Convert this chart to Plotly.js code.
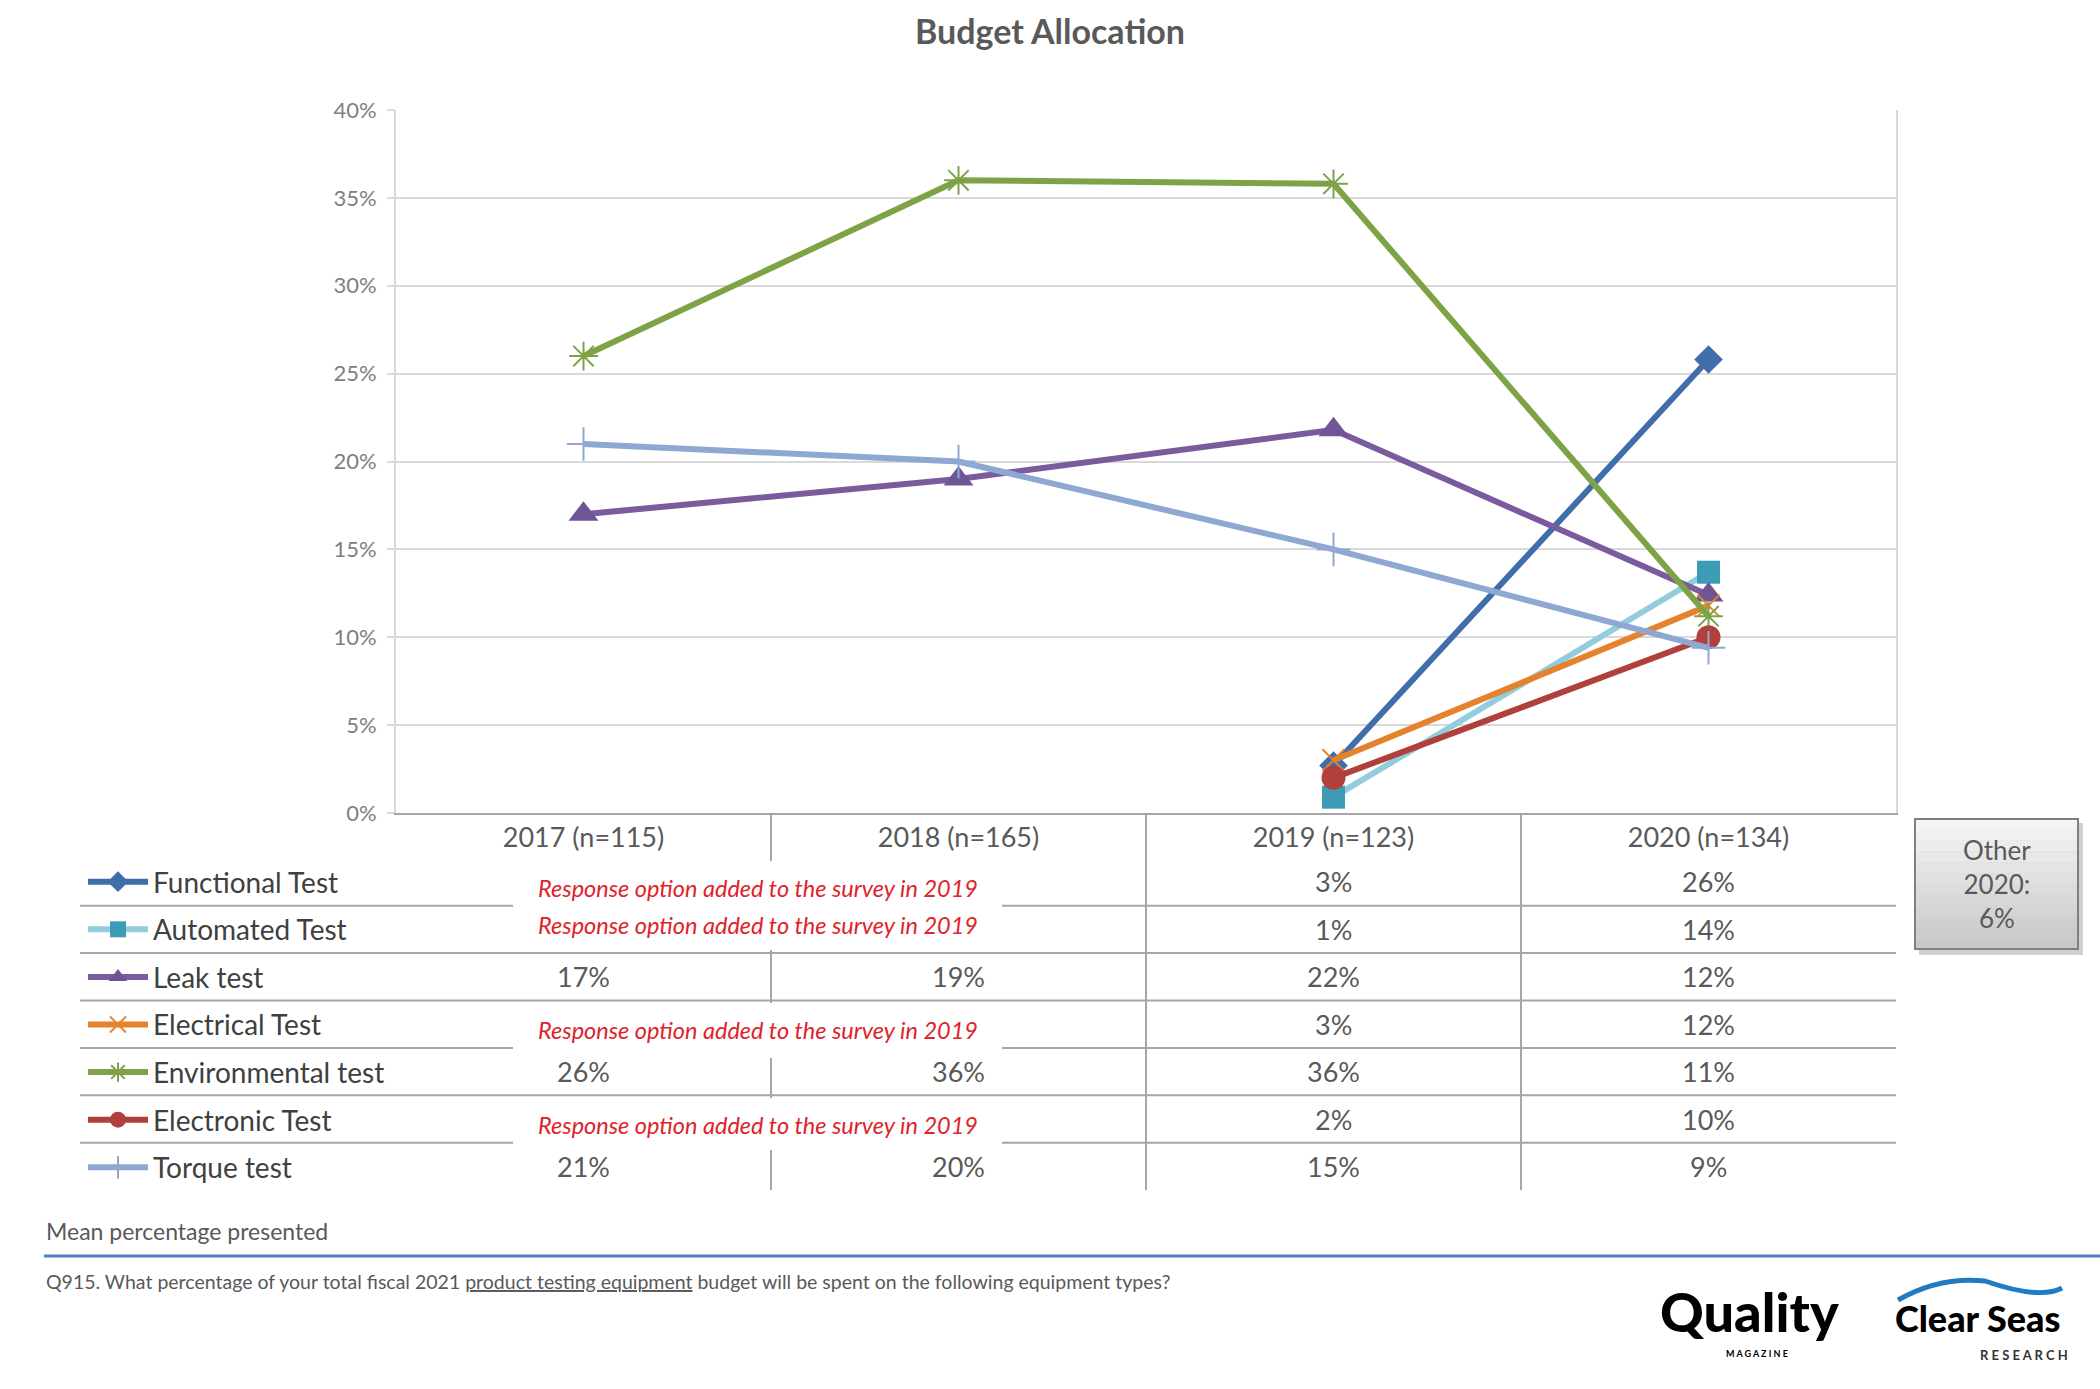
<!DOCTYPE html>
<html>
<head>
<meta charset="utf-8">
<script src="https://cdn.plot.ly/plotly-3.0.1.min.js"></script>
<style>html,body{margin:0;padding:0;background:#fff;}#chart{width:2100px;height:1389px;}</style>
</head>
<body>
<div id="chart"></div>
<script>
// ---- data ----
const categories = ['2017 (n=115)', '2018 (n=165)', '2019 (n=123)', '2020 (n=134)'];
const seriesNames = ['Functional Test', 'Automated Test', 'Leak test', 'Electrical Test', 'Environmental test', 'Electronic Test', 'Torque test'];
const functionalTest = [null, null, 2.7, 25.8];
const automatedTest = [null, null, 0.9, 13.7];
const leakTest = [17, 19, 21.8, 12.4];
const electricalTest = [null, null, 3.0, 11.8];
const environmentalTest = [26, 36, 35.8, 11.2];
const electronicTest = [null, null, 2.0, 10.0];
const torqueTest = [21, 20, 15, 9.4];
const yTickValues = [0, 5, 10, 15, 20, 25, 30, 35, 40];
const yTickLabels = ['0%', '5%', '10%', '15%', '20%', '25%', '30%', '35%', '40%'];
const missingNote = 'Response option added to the survey in 2019';
const otherNote = ['Other', '2020:', '6%'];

const seriesValues = [functionalTest, automatedTest, leakTest, electricalTest, environmentalTest, electronicTest, torqueTest];

// ---- styles ----
const lineColors = ['#3f6eaa', '#93cddd', '#7a5c9e', '#e4822e', '#7ea346', '#b13f3c', '#8ea8d2'];
const markerColors = ['#3f6eaa', '#3c9cb5', '#6f5596', '#e4822e', '#7ea346', '#b13f3c', '#8ea8d2'];
const markerSymbols = ['diamond', 'square', 'triangle-up', 'x-thin-open', 'asterisk-open', 'circle', 'cross-thin-open'];
const markerSizes = [22, 23, 26, 22, 24, 24, 24];

const FONT = 'Lato, "Open Sans", "Noto Sans", sans-serif';

// pixel -> paper helpers for layout placement
const L = 396, T = 110, W = 1500, H = 703;
const PX = x => (x - L) / W;
const PY = y => (T + H - y) / H;

const traces = seriesNames.map((name, i) => {
  const isOpen = markerSymbols[i].indexOf('open') >= 0;
  return {
    type: 'scatter',
    mode: 'lines+markers',
    name: name,
    legendgroup: 'g' + i,
    x: categories,
    y: seriesValues[i],
    cliponaxis: false,
    line: { color: lineColors[i], width: 6 },
    marker: {
      symbol: markerSymbols[i],
      size: markerSizes[i],
      color: markerColors[i],
      line: { color: markerColors[i], width: isOpen ? 2 : 0 }
    }
  };
});

// ---- table layout ----
const rowCenter0 = 882, rowPitch = 47.4;
const rowCenter = i => rowCenter0 + rowPitch * i;
const shapes = [];
const annotations = [];

// row separators
for (let i = 0; i < 6; i++) {
  const y = rowCenter(i) + rowPitch / 2;
  shapes.push({ type: 'line', xref: 'paper', yref: 'paper', x0: PX(80), x1: PX(1896), y0: PY(y), y1: PY(y),
    line: { color: '#a6a6a6', width: 2 } });
}
// column separators between categories
for (let c = 0; c < categories.length - 1; c++) {
  shapes.push({ type: 'line', xref: 'x', yref: 'paper', x0: c + 0.5, x1: c + 0.5, y0: PY(813), y1: PY(1190),
    line: { color: '#a6a6a6', width: 2 } });
}
// white masks behind "response option" notes
[[861, 950], [1003, 1058], [1098, 1150]].forEach(r => {
  shapes.push({ type: 'rect', xref: 'paper', yref: 'paper', x0: PX(513), x1: PX(1002), y0: PY(r[1]), y1: PY(r[0]),
    fillcolor: '#ffffff', line: { width: 0 } });
});

// table values
seriesValues.forEach((vals, i) => {
  vals.forEach((v, c) => {
    if (v === null) return;
    annotations.push({ xref: 'x', yref: 'paper', x: categories[c], y: PY(rowCenter(i)), text: Math.round(v) + '%',
      showarrow: false, xanchor: 'center', yanchor: 'middle', font: { family: FONT, size: 27, color: '#595959' } });
  });
});
// notes
const noteY = { 0: 888, 1: 925, 3: 1030, 5: 1125 };
Object.keys(noteY).forEach(k => {
  annotations.push({ xref: 'paper', yref: 'paper', x: PX(758), y: PY(noteY[k]), text: '<i>' + missingNote + '</i>',
    showarrow: false, xanchor: 'center', yanchor: 'middle', font: { family: FONT, size: 23.5, color: '#e0232a' } });
});

// "Other" box with shadow and gradient bands
shapes.push({ type: 'rect', xref: 'paper', yref: 'paper', x0: PX(1919), x1: PX(2083), y0: PY(955), y1: PY(823),
  fillcolor: '#cfcfcf', line: { width: 0 } });
const bx0 = 1915, bx1 = 2078, by0 = 819, by1 = 949, nb = 12;
for (let b = 0; b < nb; b++) {
  const g = Math.round(244 - (244 - 200) * b / (nb - 1));
  shapes.push({ type: 'rect', xref: 'paper', yref: 'paper', x0: PX(bx0), x1: PX(bx1),
    y0: PY(by0 + (by1 - by0) * (b + 1) / nb), y1: PY(by0 + (by1 - by0) * b / nb),
    fillcolor: 'rgb(' + g + ',' + g + ',' + g + ')', line: { width: 0 } });
}
shapes.push({ type: 'rect', xref: 'paper', yref: 'paper', x0: PX(bx0), x1: PX(bx1), y0: PY(by1), y1: PY(by0),
  fillcolor: 'rgba(0,0,0,0)', line: { color: '#7f7f7f', width: 2 } });
annotations.push({ xref: 'paper', yref: 'paper', x: PX((bx0 + bx1) / 2), y: PY((by0 + by1) / 2), text: otherNote.join('<br>'),
  showarrow: false, xanchor: 'center', yanchor: 'middle', font: { family: FONT, size: 26, color: '#595959' } });

// footer
annotations.push({ xref: 'paper', yref: 'paper', x: PX(44), y: PY(1231), text: 'Mean percentage presented',
  showarrow: false, xanchor: 'left', yanchor: 'middle', font: { family: FONT, size: 23, color: '#595959' } });
shapes.push({ type: 'line', xref: 'paper', yref: 'paper', x0: PX(44), x1: PX(2100), y0: PY(1256), y1: PY(1256),
  line: { color: '#4f81bd', width: 3 } });
annotations.push({ xref: 'paper', yref: 'paper', x: PX(44), y: PY(1281),
  text: 'Q915. What percentage of your total fiscal 2021 <span style="text-decoration:underline">product testing equipment</span> budget will be spent on the following equipment types?',
  showarrow: false, xanchor: 'left', yanchor: 'middle', font: { family: FONT, size: 19.5, color: '#595959' } });

// logos (text)
annotations.push({ xref: 'paper', yref: 'paper', x: PX(1749), y: PY(1311), text: 'Quality',
  showarrow: false, xanchor: 'center', yanchor: 'middle', font: { family: FONT, size: 54, color: '#000000', weight: 900 } });
annotations.push({ xref: 'paper', yref: 'paper', x: PX(1757), y: PY(1353), text: 'M A G A Z I N E',
  showarrow: false, xanchor: 'center', yanchor: 'middle', font: { family: FONT, size: 9, color: '#000000', weight: 700 } });
annotations.push({ xref: 'paper', yref: 'paper', x: PX(1977), y: PY(1318), text: 'Clear Seas',
  showarrow: false, xanchor: 'center', yanchor: 'middle', font: { family: FONT, size: 36, color: '#000000', weight: 900 } });
annotations.push({ xref: 'paper', yref: 'paper', x: PX(2024), y: PY(1355), text: 'R E S E A R C H',
  showarrow: false, xanchor: 'center', yanchor: 'middle', font: { family: FONT, size: 13, color: '#333333', weight: 700 } });
const sw = [[1898, 1300], [1940, 1276], [1985, 1281], [2010, 1290], [2040, 1300], [2062, 1288]];
shapes.push({ type: 'path', xref: 'paper', yref: 'paper',
  path: 'M' + PX(sw[0][0]) + ',' + PY(sw[0][1]) + ' Q' + PX(sw[1][0]) + ',' + PY(sw[1][1]) + ' ' + PX(sw[2][0]) + ',' + PY(sw[2][1]) +
        ' Q' + PX(sw[4][0]) + ',' + PY(sw[4][1]) + ' ' + PX(sw[5][0]) + ',' + PY(sw[5][1]),
  line: { color: '#1f7cc4', width: 5 } });

const layout = {
  width: 2100, height: 1389, autosize: false,
  paper_bgcolor: '#ffffff', plot_bgcolor: '#ffffff',
  margin: { l: L, r: 2100 - L - W, t: T, b: 1389 - T - H, pad: 0 },
  font: { family: FONT, color: '#595959' },
  title: { text: '<b>Budget Allocation</b>', x: 0.5, xref: 'container', xanchor: 'center', y: (1389 - 32) / 1389, yanchor: 'middle',
    font: { family: FONT, size: 34, color: '#595959' } },
  xaxis: {
    type: 'category', range: [-0.5, 3.5], showgrid: false, zeroline: false,
    showline: true, linecolor: '#a6a6a6', linewidth: 2, ticks: '', ticklabelstandoff: 0,
    tickfont: { family: FONT, size: 27, color: '#595959' }, fixedrange: true
  },
  yaxis: {
    range: [0, 40], tickvals: yTickValues, ticktext: yTickLabels, showgrid: true, gridcolor: '#d9d9d9', gridwidth: 2,
    zeroline: false, showline: true, mirror: true, linecolor: '#d9d9d9', linewidth: 2,
    ticks: 'outside', ticklen: 7, tickcolor: '#d9d9d9', tickwidth: 2, ticklabelstandoff: 6,
    tickfont: { family: FONT, size: 22, color: '#7f7f7f' }, fixedrange: true
  },
  showlegend: true,
  legend: {
    x: PX(83), xanchor: 'left', y: PY(857), yanchor: 'top', orientation: 'v',
    traceorder: 'grouped', tracegroupgap: 8.2, itemwidth: 60, bgcolor: 'rgba(0,0,0,0)', borderwidth: 0,
    font: { family: FONT, size: 28, color: '#404040' }
  },
  shapes: shapes,
  annotations: annotations
};

Plotly.newPlot('chart', traces, layout, { displayModeBar: false, staticPlot: true });
</script>
</body>
</html>
